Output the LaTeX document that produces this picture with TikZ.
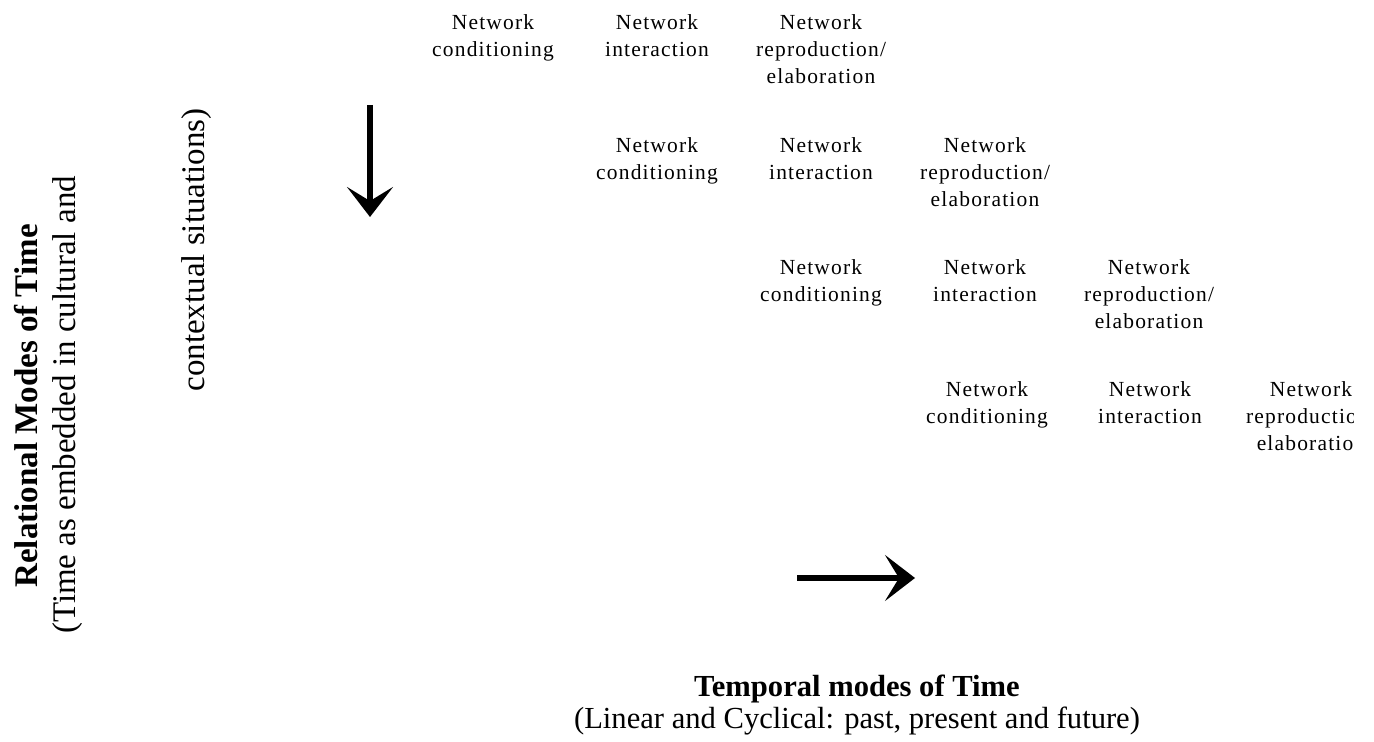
\documentclass[tikz,border=0pt]{standalone}
\usepackage{fontspec}
\setmainfont{Liberation Serif}
\newfontfamily\netfont[LetterSpace=5.5]{Liberation Serif}
\usetikzlibrary{arrows.meta}

\begin{document}
\begin{tikzpicture}[x=0.5pt, y=-0.5pt,
    net/.style={anchor=north, inner sep=0pt, align=center,
      font=\netfont\fontsize{10.75}{13.5}\selectfont},
    sidetxt/.style={anchor=base, inner sep=0pt, rotate=90,
      font=\fontsize{16.5}{19}\selectfont},
    foottxt/.style={anchor=base, inner sep=0pt,
      font=\fontsize{15.3}{16}\selectfont},
    timearrow/.style={line width=3pt,
      -{Stealth[length=15pt, width=23pt, inset=7pt]}}]
  \useasboundingbox (0,0) rectangle (1374,742);

  \node[sidetxt] (relhead) at (37,406) {\bfseries Relational Modes of Time};
  \node[sidetxt] (reldesc) at (75,405) {(Time as embedded in cultural and};
  \node[sidetxt] (relrest) at (204,250) {contextual situations)};

  \begin{scope}
    \clip (0,0) rectangle (1353,742);
    \node[net] (cond1) at (493,14.5) {Network\\conditioning};
    \node[net] (inter1) at (657,14.5) {Network\\interaction};
    \node[net] (repro1) at (821,14.5) {Network\\reproduction/\\elaboration};

    \node[net] (cond2) at (657,136.8) {Network\\conditioning};
    \node[net] (inter2) at (821,136.8) {Network\\interaction};
    \node[net] (repro2) at (985,136.8) {Network\\reproduction/\\elaboration};

    \node[net] (cond3) at (821,259.1) {Network\\conditioning};
    \node[net] (inter3) at (985,259.1) {Network\\interaction};
    \node[net] (repro3) at (1149,259.1) {Network\\reproduction/\\elaboration};

    \node[net] (cond4) at (987,381.4) {Network\\conditioning};
    \node[net] (inter4) at (1150,381.4) {Network\\interaction};
    \node[net] (repro4) at (1311,381.4) {Network\\reproduction/\\elaboration};
  \end{scope}

  \coordinate (vtop) at (370,105);
  \coordinate (vtip) at (370,217);
  \draw[timearrow] (vtop) -- (vtip);
  \coordinate (htail) at (797,578);
  \coordinate (htip) at (915,578);
  \draw[timearrow] (htail) -- (htip);

  \node[foottxt] (temphead) at (857,696) {\bfseries Temporal modes of Time};
  \node[foottxt] (tempdesc) at (857,728) {(Linear and Cyclical: past, present and future)};
\end{tikzpicture}
\end{document}
